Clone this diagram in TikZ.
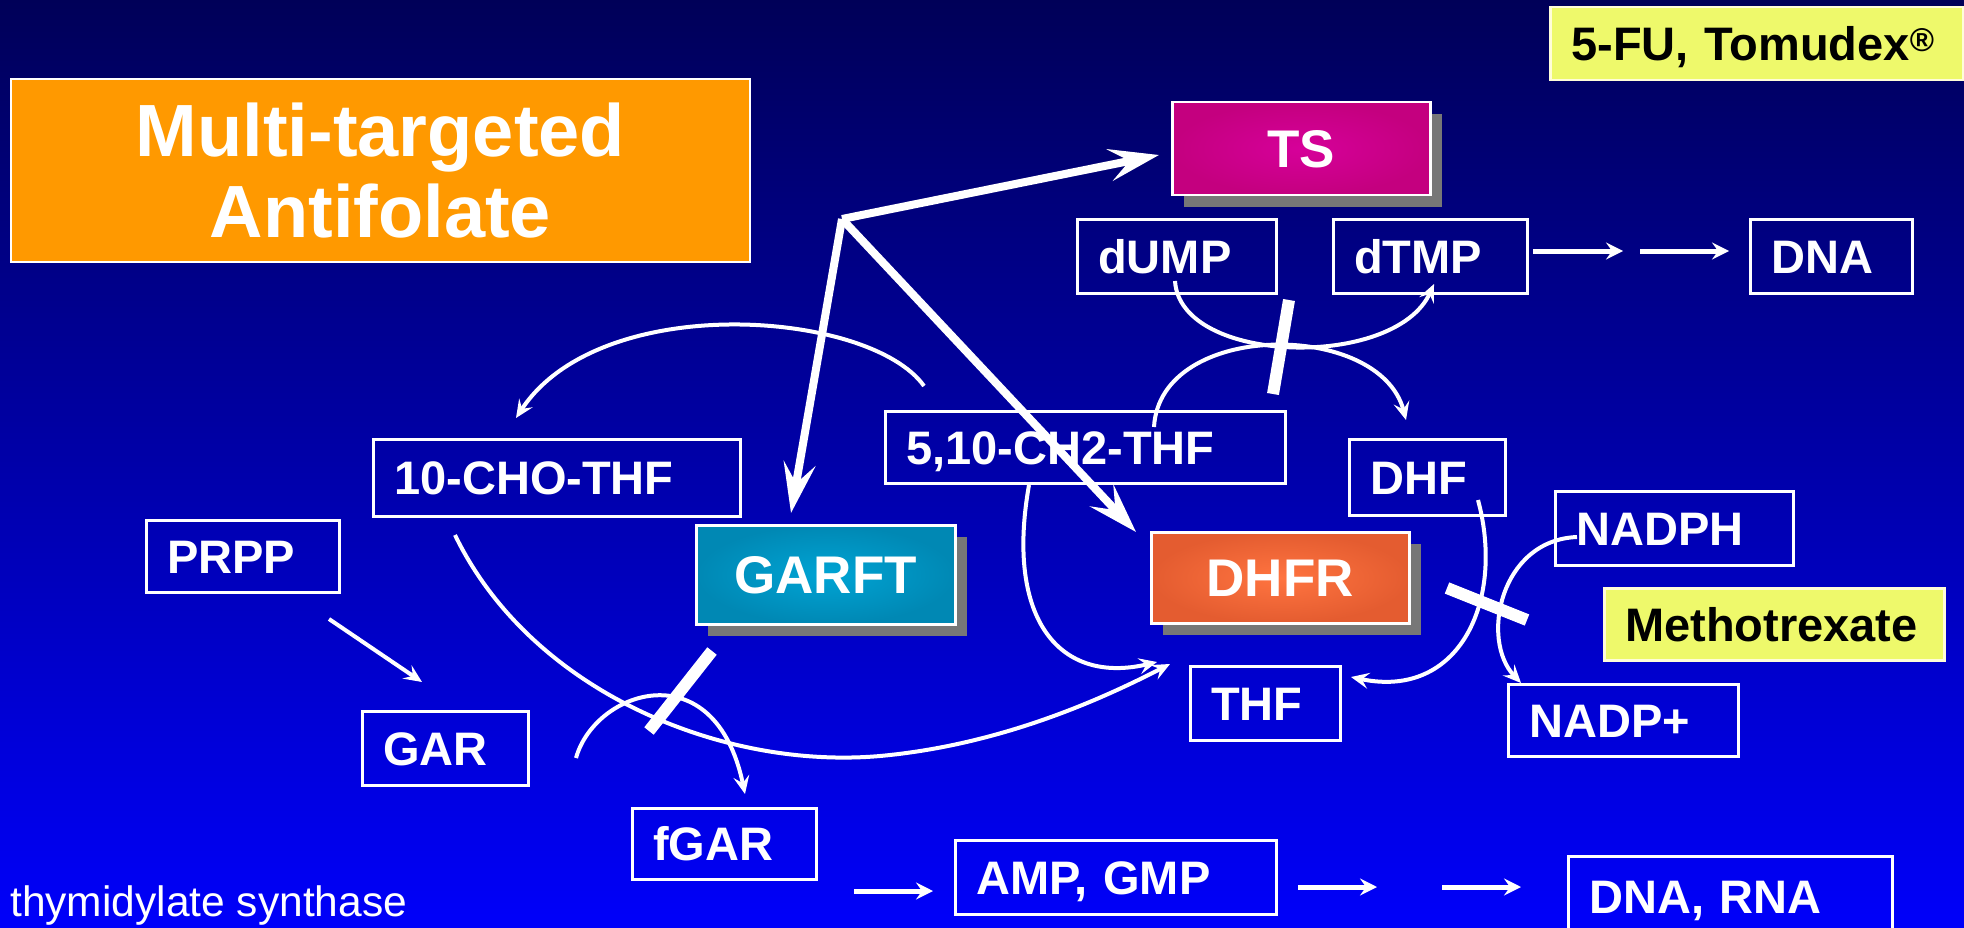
\documentclass[tikz,border=0pt]{standalone}
\usepackage{fontspec}
\setmainfont{Liberation Sans}
\usetikzlibrary{arrows.meta,shadows}
\definecolor{bgtop}{HTML}{000058}
\definecolor{bgbot}{HTML}{0000FA}
\definecolor{orangebox}{HTML}{FF9900}
\definecolor{yellowbox}{HTML}{EEF96B}
\definecolor{tscol}{HTML}{C4007F}
\definecolor{tsin}{HTML}{D6009A}
\definecolor{garcol}{HTML}{0088B4}
\definecolor{garin}{HTML}{00A4D4}
\definecolor{dhfrcol}{HTML}{E45C30}
\definecolor{dhfrin}{HTML}{FF7440}
\definecolor{shadowgray}{HTML}{777777}
\begin{document}
\begin{tikzpicture}[x=1pt,y=-1pt,
  lbl/.style n args={3}{draw=white, line width=2.5pt, anchor=north west, text=white,
    font=\fontsize{47}{50}\selectfont\bfseries, inner xsep=21pt, inner ysep=0pt,
    align=left, text height=34pt, text depth=0pt,
    minimum width=#1, minimum height=#2, text width=#3},
  enz/.style n args={2}{draw=white, line width=2.5pt, anchor=north west, text=white,
    font=\fontsize{53}{56}\selectfont\bfseries, inner sep=0pt,
    text height=38pt, text depth=0pt, minimum width=#1, minimum height=#2,
    drop shadow={shadow xshift=12pt, shadow yshift=-12pt, opacity=1, fill=shadowgray, draw=none}},
  bigarrow/.style={draw=white, line width=8pt, -{Stealth[length=50pt,width=32pt,inset=20pt]}},
  thinarrow/.style={draw=white, line width=4pt, -{Stealth[length=18pt,width=16pt,inset=7pt]}},
  straightarrow/.style={draw=white, line width=5pt, -{Stealth[length=17pt,width=17pt,inset=6pt]}},
  inhibit/.style={draw=white, line width=12pt},
]
\useasboundingbox (0,0) rectangle (1964,928);
\clip (0,0) rectangle (1964,928);
\shade[top color=bgtop, bottom color=bgbot] (0,0) rectangle (1964,928);

% title and drug boxes
\node[draw=white, line width=2pt, fill=orangebox, anchor=north west, text=white,
  font=\fontsize{74}{81}\selectfont\bfseries, align=center,
  minimum width=739pt, minimum height=183pt, inner sep=0pt] (title) at (10,78)
  {Multi-targeted\\Antifolate};
\node[lbl={413pt}{73pt}{371pt}, fill=yellowbox, text=black, draw=white!85!yellow] (tomu) at (1549,6)
  {5-FU, Tomudex\textsuperscript{\textregistered}};
\node[lbl={340pt}{72pt}{298pt}, fill=yellowbox, text=black, draw=white!85!yellow] (mtx) at (1603,587)
  {Methotrexate};

% enzymes
\node[enz={258pt}{93pt}, inner color=tsin, outer color=tscol] (ts) at (1171,101) {TS};
\node[enz={259pt}{99pt}, inner color=garin, outer color=garcol] (garft) at (695,524) {GARFT};
\node[enz={258pt}{91pt}, inner color=dhfrin, outer color=dhfrcol] (dhfr) at (1150,531) {DHFR};

% metabolite boxes
\node[lbl={199pt}{74pt}{157pt}] (dump) at (1076,218) {dUMP};
\node[lbl={194pt}{74pt}{152pt}] (dtmp) at (1332,218) {dTMP};
\node[lbl={162pt}{74pt}{120pt}] (dna) at (1749,218) {DNA};
\node[lbl={367pt}{77pt}{325pt}] (cho) at (372,438) {10-CHO-THF};
\node[lbl={400pt}{72pt}{358pt}] (ch2) at (884,410) {5,10-CH2-THF};
\node[lbl={156pt}{76pt}{114pt}] (dhf) at (1348,438) {DHF};
\node[lbl={193pt}{72pt}{151pt}] (prpp) at (145,519) {PRPP};
\node[lbl={238pt}{74pt}{196pt}] (nadph) at (1554,490) {NADPH};
\node[lbl={150pt}{74pt}{108pt}] (thf) at (1189,665) {THF};
\node[lbl={230pt}{72pt}{188pt}] (nadp) at (1507,683) {NADP+};
\node[lbl={166pt}{74pt}{124pt}] (gar) at (361,710) {GAR};
\node[lbl={184pt}{71pt}{142pt}] (fgar) at (631,807) {fGAR};
\node[lbl={321pt}{74pt}{279pt}] (amp) at (954,839) {AMP, GMP};
\node[lbl={324pt}{80pt}{282pt}] (dnarna) at (1567,855) {DNA, RNA};

\node[anchor=base west, text=white, inner sep=0pt, font=\fontsize{42.5}{45}\selectfont] (tslabel) at (10,916)
  {thymidylate synthase};

% connector end points
\coordinate (hub) at (842,219);
\coordinate (chA) at (924,386);  \coordinate (choIn) at (516,418);
\coordinate (choOut) at (455,535); \coordinate (thfA) at (1170,664);
\coordinate (garOut) at (576,758); \coordinate (fgarIn) at (745,794);
\coordinate (chB) at (1029,485); \coordinate (thfB) at (1157,662);
\coordinate (dhfOut) at (1478,500); \coordinate (thfC) at (1351,677);
\coordinate (nadphOut) at (1577,537); \coordinate (nadpIn) at (1521,683);
\coordinate (dumpOut) at (1175,281); \coordinate (dtmpIn) at (1434,284);
\coordinate (chC) at (1154,427); \coordinate (dhfIn) at (1406,420);
\coordinate (prppOut) at (329,619); \coordinate (garIn) at (422,682);
\coordinate (dtA) at (1533,251); \coordinate (dtB) at (1623,251);
\coordinate (dtC) at (1640,251); \coordinate (dtD) at (1729,251);
\coordinate (fgA) at (854,891); \coordinate (fgB) at (933,891);
\coordinate (amA) at (1298,887); \coordinate (amB) at (1377,887);
\coordinate (amC) at (1442,887); \coordinate (amD) at (1521,887);
\coordinate (tsTip) at (1159,155);
\coordinate (garTip) at (791,513);
\coordinate (dhfrTip) at (1136,532);
\coordinate (b1a) at (1289,300); \coordinate (b1b) at (1273,394);
\coordinate (b2a) at (712,651); \coordinate (b2b) at (649,731);
\coordinate (b3a) at (1447,588); \coordinate (b3b) at (1527,620);

% thin curved reactions
\draw[thinarrow] (chA) .. controls (870,310) and (600,290) .. (choIn);
\draw[thinarrow] (choOut) .. controls (530,690) and (720,770) .. (880,756)
  .. controls (1000,745) and (1100,700) .. (thfA);
\draw[thinarrow] (garOut) .. controls (595,690) and (715,650) .. (fgarIn);
\draw[thinarrow] (chB) .. controls (1005,620) and (1060,685) .. (thfB);
\draw[thinarrow] (dhfOut) .. controls (1505,600) and (1460,700) .. (thfC);
\draw[thinarrow] (nadphOut) .. controls (1500,540) and (1480,640) .. (nadpIn);
\draw[thinarrow] (dumpOut) .. controls (1180,365) and (1395,370) .. (dtmpIn);
\draw[thinarrow] (chC) .. controls (1160,320) and (1380,320) .. (dhfIn);
\draw[thinarrow] (prppOut) -- (garIn);

% straight arrows
\draw[straightarrow] (dtA) -- (dtB);
\draw[straightarrow] (dtC) -- (dtD);
\draw[straightarrow] (fgA) -- (fgB);
\draw[straightarrow] (amA) -- (amB);
\draw[straightarrow] (amC) -- (amD);

% inhibition bars
\draw[inhibit] (b1a) -- (b1b);
\draw[inhibit] (b2a) -- (b2b);
\draw[inhibit] (b3a) -- (b3b);

% drug arrows
\draw[bigarrow] (hub) -- (tsTip);
\draw[bigarrow] (hub) -- (garTip);
\draw[bigarrow] (hub) -- (dhfrTip);
\end{tikzpicture}
\end{document}
